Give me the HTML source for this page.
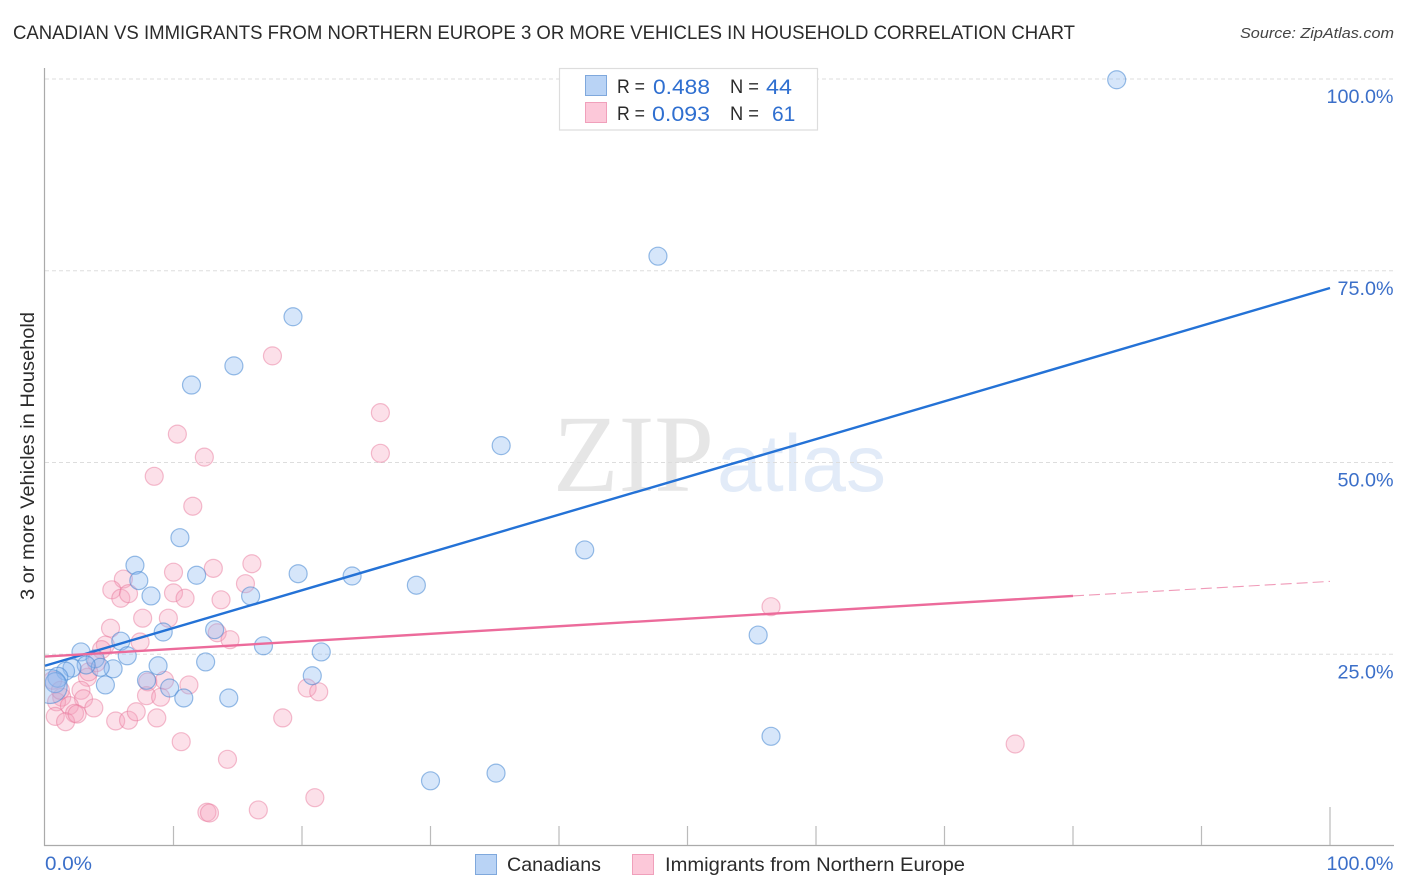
<!DOCTYPE html>
<html lang="en">
<head>
<meta charset="utf-8">
<title>Canadian vs Immigrants from Northern Europe Correlation Chart</title>
<style>
html,body{margin:0;padding:0;background:#fff;}
svg{display:block;font-family:"Liberation Sans",sans-serif;}
</style>
</head>
<body>
<svg id="chart" xmlns="http://www.w3.org/2000/svg" width="1406" height="892" viewBox="0 0 1406 892">
  <defs>
    <clipPath id="plot-clip"><rect x="45" y="60" width="1349" height="785"/></clipPath>
  </defs>
  <rect width="1406" height="892" fill="#fff"/>
  <text x="13" y="39" font-size="19" fill="#2b2b2b" textLength="1062" lengthAdjust="spacingAndGlyphs">CANADIAN VS IMMIGRANTS FROM NORTHERN EUROPE 3 OR MORE VEHICLES IN HOUSEHOLD CORRELATION CHART</text>
  <text x="1394" y="38" font-size="15" font-style="italic" fill="#444" text-anchor="end" textLength="154" lengthAdjust="spacingAndGlyphs">Source: ZipAtlas.com</text>
  <text transform="translate(34,600) rotate(-90)" font-size="19" fill="#2b2b2b" textLength="288" lengthAdjust="spacingAndGlyphs">3 or more Vehicles in Household</text>
  <g>
    <text x="553" y="491" font-family="'Liberation Serif',serif" font-size="110" fill="#e6e6e6" textLength="161" lengthAdjust="spacingAndGlyphs">ZIP</text>
    <text x="717" y="491" font-size="81" fill="#e2ebf8" textLength="169" lengthAdjust="spacingAndGlyphs">atlas</text>
  </g>
  <g id="grid"></g>
  <g id="axes"></g>
  <g id="points" clip-path="url(#plot-clip)"></g>
  <g id="lines"></g>
  <g id="labels"></g>
  <g>
    <rect x="559.5" y="68.5" width="258" height="61.5" fill="#fff" stroke="#ddd" stroke-width="1.2"/>
    <rect x="585.5" y="75.5" width="21" height="20" fill="#b9d3f5" stroke="#7fa8dc" stroke-width="1"/>
    <rect x="585.5" y="102.5" width="21" height="20" fill="#fcc8d9" stroke="#f0a0bb" stroke-width="1"/>
    <text x="617" y="93" font-size="19" fill="#2b2b2b" textLength="28" lengthAdjust="spacingAndGlyphs">R =</text>
    <text x="653" y="94" font-size="21" fill="#2f6fd0" textLength="57" lengthAdjust="spacingAndGlyphs">0.488</text>
    <text x="730" y="93" font-size="19" fill="#2b2b2b" textLength="29" lengthAdjust="spacingAndGlyphs">N =</text>
    <text x="766" y="94" font-size="21" fill="#2f6fd0" textLength="26" lengthAdjust="spacingAndGlyphs">44</text>
    <text x="617" y="120" font-size="19" fill="#2b2b2b" textLength="28" lengthAdjust="spacingAndGlyphs">R =</text>
    <text x="652" y="121" font-size="21" fill="#2f6fd0" textLength="58" lengthAdjust="spacingAndGlyphs">0.093</text>
    <text x="730" y="120" font-size="19" fill="#2b2b2b" textLength="29" lengthAdjust="spacingAndGlyphs">N =</text>
    <text x="772" y="121" font-size="21" fill="#2f6fd0">61</text>
  </g>
  <g>
    <rect x="475.5" y="854.5" width="21" height="20" fill="#b9d3f5" stroke="#7fa8dc" stroke-width="1"/>
    <text x="507" y="871" font-size="19.5" fill="#2b2b2b" textLength="94" lengthAdjust="spacingAndGlyphs">Canadians</text>
    <rect x="632.5" y="854.5" width="21" height="20" fill="#fcc8d9" stroke="#f0a0bb" stroke-width="1"/>
    <text x="665" y="871" font-size="19.5" fill="#2b2b2b" textLength="300" lengthAdjust="spacingAndGlyphs">Immigrants from Northern Europe</text>
  </g>
</svg>
<script>
const blueX = [83.4,47.7,19.3,14.7,11.4,35.5,10.5,42.0,7.0,7.3,8.25,11.8,19.7,23.9,28.9,16.0,9.2,13.2,5.9,17.0,21.5,55.5,2.8,6.4,3.9,12.5,8.8,5.3,4.3,3.2,2.1,1.6,20.8,7.9,4.7,9.7,10.8,14.3,56.5,30.0,35.1,1.0,0.8,0.4];
const blueY = [99.9,76.9,69.0,62.6,60.1,52.2,40.2,38.6,36.6,34.6,32.6,35.3,35.5,35.2,34.0,32.6,27.9,28.2,26.7,26.1,25.3,27.5,25.3,24.8,24.4,24.0,23.5,23.1,23.3,23.6,23.2,22.8,22.2,21.6,21.0,20.6,19.3,19.3,14.3,8.5,9.5,22.0,21.3,20.8];
const pinkX = [17.7,26.1,26.1,10.3,12.4,8.5,11.5,16.1,13.1,10.0,6.1,15.6,5.2,5.9,6.5,10.0,10.9,13.7,7.6,9.6,5.1,13.4,14.4,7.4,4.7,4.4,56.5,4.0,3.3,3.4,9.3,8.0,11.2,20.4,21.3,2.8,3.0,7.9,9.0,1.3,0.9,1.9,2.3,3.8,0.8,1.6,2.5,5.5,6.5,7.1,8.7,18.5,10.6,14.2,75.5,21.0,16.6,12.6,12.8,0.6,1.2];
const pinkY = [63.9,56.5,51.2,53.7,50.7,48.2,44.3,36.8,36.2,35.7,34.8,34.2,33.4,32.3,32.9,33.0,32.3,32.1,29.7,29.7,28.4,27.8,26.9,26.6,26.2,25.6,31.2,23.9,22.0,22.7,21.6,21.4,21.0,20.6,20.1,20.3,19.2,19.6,19.4,19.4,18.8,18.3,17.3,18.0,16.9,16.2,17.2,16.3,16.4,17.5,16.7,16.7,13.6,11.3,13.3,6.3,4.7,4.4,4.3,21.6,20.3];
const blueTrendX = [0,100];
const blueTrendY = [23.5,72.75];
const pinkTrendX = [0,80];
const pinkTrendY = [24.7,32.6];
const pinkDashX = [80,100];
const pinkDashY = [32.6,34.5];
const yTicks = [25,50,75,100];
const yTickLabels = ["25.0%","50.0%","75.0%","100.0%"];
const xTicks = [10,20,30,40,50,60,70,80,90,100];
const xEndLabels = ["0.0%","100.0%"];

const NS = "http://www.w3.org/2000/svg";
const sx = v => 45 + v * 12.85;
const sy = v => 846 - v * 7.67;
function make(tag, parent, attrs) {
  const el = document.createElementNS(NS, tag);
  for (const k in attrs) el.setAttribute(k, attrs[k]);
  parent.appendChild(el);
  return el;
}
const grid = document.getElementById("grid");
const axes = document.getElementById("axes");
const points = document.getElementById("points");
const lines = document.getElementById("lines");
const labels = document.getElementById("labels");

yTicks.forEach((t, i) => {
  const g = make("line", grid, {x1: 45, x2: 1394, y1: sy(t), y2: sy(t), stroke: "#ddd", "stroke-width": 1, "stroke-dasharray": "4 3"});
  
  
  const l = make("text", labels, {x: 1393.5, y: sy(t) + 24, "font-size": 19, fill: "#3b6fc9", "text-anchor": "end", textLength: yTickLabels[i].length > 5 ? 67 : 56, lengthAdjust: "spacingAndGlyphs"});
  l.textContent = yTickLabels[i];
  
  
});

const yAxis = make("line", axes, {x1: 44.5, x2: 44.5, y1: 68, y2: 846, stroke: "#aaa", "stroke-width": 1.2});


const xAxis = make("line", axes, {x1: 44, x2: 1394, y1: 845.5, y2: 845.5, stroke: "#aaa", "stroke-width": 1.2});


xTicks.forEach(t => {
  const k = make("line", axes, {x1: sx(t), x2: sx(t), y1: t === 100 ? 807 : 826, y2: 845, stroke: "#bbb", "stroke-width": 1.2});
  
  
});

const x0 = make("text", labels, {x: 45, y: 870, "font-size": 19, fill: "#3b6fc9", textLength: 47, lengthAdjust: "spacingAndGlyphs"});
x0.textContent = xEndLabels[0];


const x1 = make("text", labels, {x: 1393.5, y: 870, "font-size": 19, fill: "#3b6fc9", "text-anchor": "end", textLength: 67, lengthAdjust: "spacingAndGlyphs"});
x1.textContent = xEndLabels[1];



pinkX.forEach((x, i) => {
  const c = make("circle", points, {cx: sx(x), cy: sy(pinkY[i]), r: 9, fill: "rgba(247,160,188,0.33)", stroke: "rgba(232,120,155,0.48)", "stroke-width": 1.2});
  
  
});
blueX.forEach((x, i) => {
  const c = make("circle", points, {cx: sx(x), cy: sy(blueY[i]), r: x < 0.5 ? 17 : (x < 1.1 ? 10 : 9), fill: "rgba(140,185,240,0.36)", stroke: "rgba(70,135,210,0.55)", "stroke-width": 1.2});
  
  
});

const bt = make("line", lines, {x1: sx(blueTrendX[0]), y1: sy(blueTrendY[0]), x2: sx(blueTrendX[1]), y2: sy(blueTrendY[1]), stroke: "#2472d6", "stroke-width": 2.4});


const pt = make("line", lines, {x1: sx(pinkTrendX[0]), y1: sy(pinkTrendY[0]), x2: sx(pinkTrendX[1]), y2: sy(pinkTrendY[1]), stroke: "#ec6b9b", "stroke-width": 2.4});


const pd = make("line", lines, {x1: sx(pinkDashX[0]), y1: sy(pinkDashY[0]), x2: sx(pinkDashX[1]), y2: sy(pinkDashY[1]), stroke: "#f09ab8", "stroke-width": 1.1, "stroke-dasharray": "11 5"});


</script>
</body>
</html>
